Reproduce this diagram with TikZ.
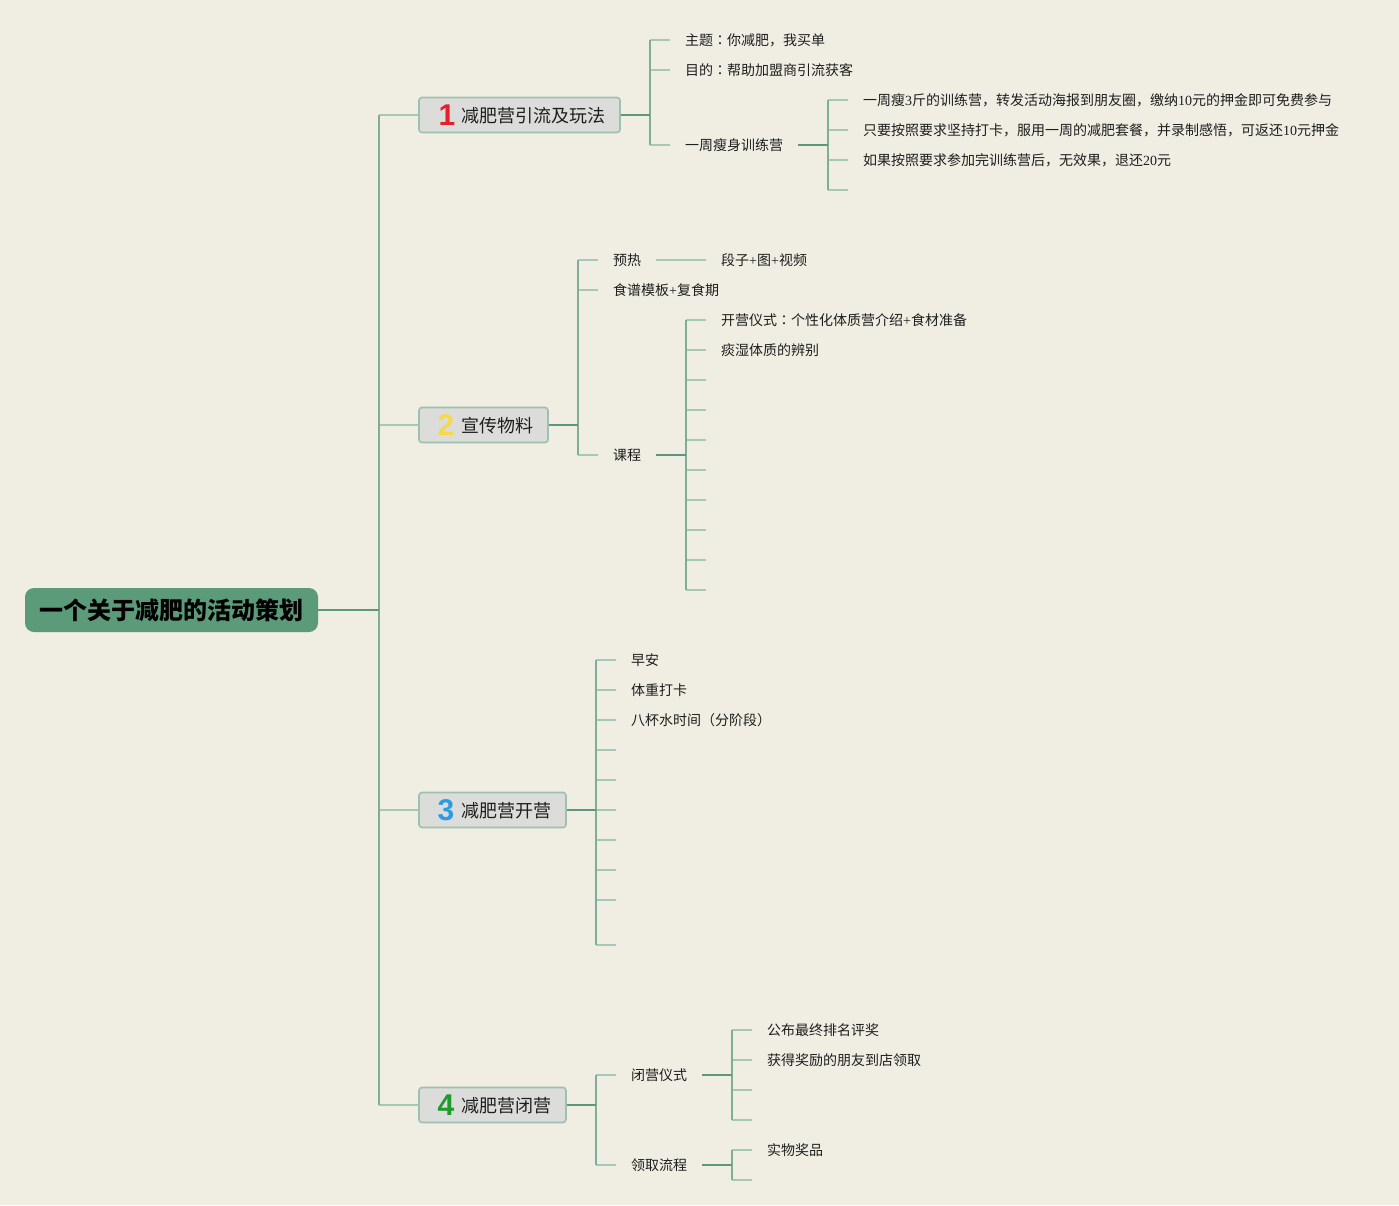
\documentclass[tikz,border=0pt]{standalone}
\usepackage{fontspec}
\setmainfont{Liberation Serif}
\newfontfamily\cjk{Noto Sans CJK SC}
\newfontfamily\cjktc{Noto Sans CJK TC}
\newfontfamily\numf{Liberation Sans}
\newcommand\lat[1]{{\rmfamily #1}}
\newcommand\cln{{\cjktc ：}}
\usetikzlibrary{calc}
\definecolor{bgc}{HTML}{F0EDE3}
\definecolor{rootfill}{HTML}{5B9B79}
\definecolor{boxfill}{HTML}{DCDCDA}
\definecolor{boxdraw}{HTML}{9CC2AF}
\definecolor{darkl}{HTML}{5E977F}
\definecolor{midl}{HTML}{7FAE98}
\definecolor{lightl}{HTML}{A6C9B7}
\definecolor{txt}{HTML}{1E1E1E}
\definecolor{numred}{HTML}{E3202E}
\definecolor{numyel}{HTML}{F6D84A}
\definecolor{numblu}{HTML}{2B9BE3}
\definecolor{numgrn}{HTML}{1E9B2B}
\tikzset{
  rootbox/.style={fill=rootfill, rounded corners=9pt, minimum height=44pt, inner sep=0pt,
    font=\cjk\bfseries\fontsize{24}{28}\selectfont, text=black},
  bbox/.style={fill=boxfill, draw=boxdraw, line width=1.6pt, rounded corners=3pt, minimum height=35pt, inner sep=0pt},
  btext/.style={anchor=west, inner sep=0pt, font=\cjk\fontsize{18}{22}\selectfont, text=txt},
  bnum/.style={inner sep=0pt, font=\numf\bfseries\fontsize{30}{34}\selectfont},
  leaf/.style={anchor=west, inner sep=0pt, font=\cjk\fontsize{14}{17}\selectfont, text=txt},
  tickl/.style={draw=lightl, line width=1.5pt},
  vline/.style={draw=midl, line width=1.5pt},
  conn/.style={draw=darkl, line width=2pt},
}
\begin{document}
\begin{tikzpicture}[x=1pt,y=-1pt]
\useasboundingbox (0,0) rectangle (1399,1205);
\fill[bgc] (0,0) rectangle (1399,1205);

% root
\node[rootbox, minimum width=293pt] (root) at (171.5,610) {一个关于减肥的活动策划};
\coordinate (jr) at (379,610);

% branch boxes
\node[bbox, minimum width=201pt] (b1) at (519.5,115) {};
\node[bnum, text=numred] (n1) at (447,115) {1};
\node[btext] (t1) at (461,116) {减肥营引流及玩法};

\node[bbox, minimum width=129pt] (b2) at (483.5,425) {};
\node[bnum, text=numyel] (n2) at (446,425) {2};
\node[btext] (t2) at (461,426) {宣传物料};

\node[bbox, minimum width=147pt] (b3) at (492.5,810) {};
\node[bnum, text=numblu] (n3) at (446,810) {3};
\node[btext] (t3) at (461,811) {减肥营开营};

\node[bbox, minimum width=147pt] (b4) at (492.5,1105) {};
\node[bnum, text=numgrn] (n4) at (446,1105) {4};
\node[btext] (t4) at (461,1106) {减肥营闭营};

% trunk
\draw[tickl] (jr |- b1) -- (b1.west);
\draw[tickl] (jr |- b2) -- (b2.west);
\draw[tickl] (jr |- b3) -- (b3.west);
\draw[tickl] (jr |- b4) -- (b4.west);
\draw[vline] (jr |- b1) -- (jr |- b4);
\draw[conn] (root.east) -- (jr);

% ---------- branch 1
\coordinate (j1) at (650,115);
\node[leaf] (l11) at (685,40) {主题\cln 你减肥，我买单};
\node[leaf] (l12) at (685,70) {目的\cln 帮助加盟商引流获客};
\node[leaf] (l13) at (685,145) {一周瘦身训练营};
\foreach \n in {l11,l12,l13}{\draw[tickl] (j1 |- \n.west) -- ($(\n.west)+(-15,0)$);}
\draw[vline] (j1 |- l11.west) -- (j1 |- l13.west);
\draw[conn] (b1.east) -- (j1);

\coordinate (j13) at (828,145);
\node[leaf] (l131) at (863,100) {一周瘦\lat{3}斤的训练营，转发活动海报到朋友圈，缴纳\lat{10}元的押金即可免费参与};
\node[leaf] (l132) at (863,130) {只要按照要求坚持打卡，服用一周的减肥套餐，并录制感悟，可返还\lat{10}元押金};
\node[leaf] (l133) at (863,160) {如果按照要求参加完训练营后，无效果，退还\lat{20}元};
\coordinate (e131) at (848,190);
\foreach \n in {l131,l132,l133}{\draw[tickl] (j13 |- \n.west) -- ($(\n.west)+(-15,0)$);}
\draw[tickl] (j13 |- e131) -- (e131);
\draw[vline] (j13 |- l131.west) -- (j13 |- e131);
\draw[conn] ($(l13.east)+(15,0)$) -- (j13);

% ---------- branch 2
\coordinate (j2) at (578,425);
\node[leaf] (l21) at (613,260) {预热};
\node[leaf] (l22) at (613,290) {食谱模板\lat{+}复食期};
\node[leaf] (l23) at (613,455) {课程};
\foreach \n in {l21,l22,l23}{\draw[tickl] (j2 |- \n.west) -- ($(\n.west)+(-15,0)$);}
\draw[vline] (j2 |- l21.west) -- (j2 |- l23.west);
\draw[conn] (b2.east) -- (j2);

\node[leaf] (l211) at (721,260) {段子\lat{+}图\lat{+}视频};
\draw[tickl] ($(l21.east)+(15,0)$) -- ($(l211.west)+(-15,0)$);

\coordinate (j23) at (686,455);
\node[leaf] (l231) at (721,320) {开营仪式\cln 个性化体质营介绍\lat{+}食材准备};
\node[leaf] (l232) at (721,350) {痰湿体质的辨别};
\foreach \n in {l231,l232}{\draw[tickl] (j23 |- \n.west) -- ($(\n.west)+(-15,0)$);}
\foreach \y [count=\i] in {380,410,440,470,500,530,560,590}{
  \coordinate (e23\i) at (706,\y);
  \draw[tickl] (j23 |- e23\i) -- (e23\i);
}
\draw[vline] (j23 |- l231.west) -- (j23 |- e238);
\draw[conn] ($(l23.east)+(15,0)$) -- (j23);

% ---------- branch 3
\coordinate (j3) at (596,810);
\node[leaf] (l31) at (631,660) {早安};
\node[leaf] (l32) at (631,690) {体重打卡};
\node[leaf] (l33) at (631,720) {八杯水时间（分阶段）};
\foreach \n in {l31,l32,l33}{\draw[tickl] (j3 |- \n.west) -- ($(\n.west)+(-15,0)$);}
\foreach \y [count=\i] in {750,780,810,840,870,900,945}{
  \coordinate (e3\i) at (616,\y);
  \draw[tickl] (j3 |- e3\i) -- (e3\i);
}
\draw[vline] (j3 |- l31.west) -- (j3 |- e37);
\draw[conn] (b3.east) -- (j3);

% ---------- branch 4
\coordinate (j4) at (596,1105);
\node[leaf] (l41) at (631,1075) {闭营仪式};
\node[leaf] (l42) at (631,1165) {领取流程};
\foreach \n in {l41,l42}{\draw[tickl] (j4 |- \n.west) -- ($(\n.west)+(-15,0)$);}
\draw[vline] (j4 |- l41.west) -- (j4 |- l42.west);
\draw[conn] (b4.east) -- (j4);

\coordinate (j41) at (732,1075);
\node[leaf] (l411) at (767,1030) {公布最终排名评奖};
\node[leaf] (l412) at (767,1060) {获得奖励的朋友到店领取};
\foreach \n in {l411,l412}{\draw[tickl] (j41 |- \n.west) -- ($(\n.west)+(-15,0)$);}
\coordinate (e411) at (752,1090);
\coordinate (e412) at (752,1120);
\draw[tickl] (j41 |- e411) -- (e411);
\draw[tickl] (j41 |- e412) -- (e412);
\draw[vline] (j41 |- l411.west) -- (j41 |- e412);
\draw[conn] ($(l41.east)+(15,0)$) -- (j41);

\coordinate (j42) at (732,1165);
\node[leaf] (l421) at (767,1150) {实物奖品};
\coordinate (e421) at (752,1180);
\draw[tickl] (j42 |- l421.west) -- ($(l421.west)+(-15,0)$);
\draw[tickl] (j42 |- e421) -- (e421);
\draw[vline] (j42 |- l421.west) -- (j42 |- e421);
\draw[conn] ($(l42.east)+(15,0)$) -- (j42);
\end{tikzpicture}
\end{document}
